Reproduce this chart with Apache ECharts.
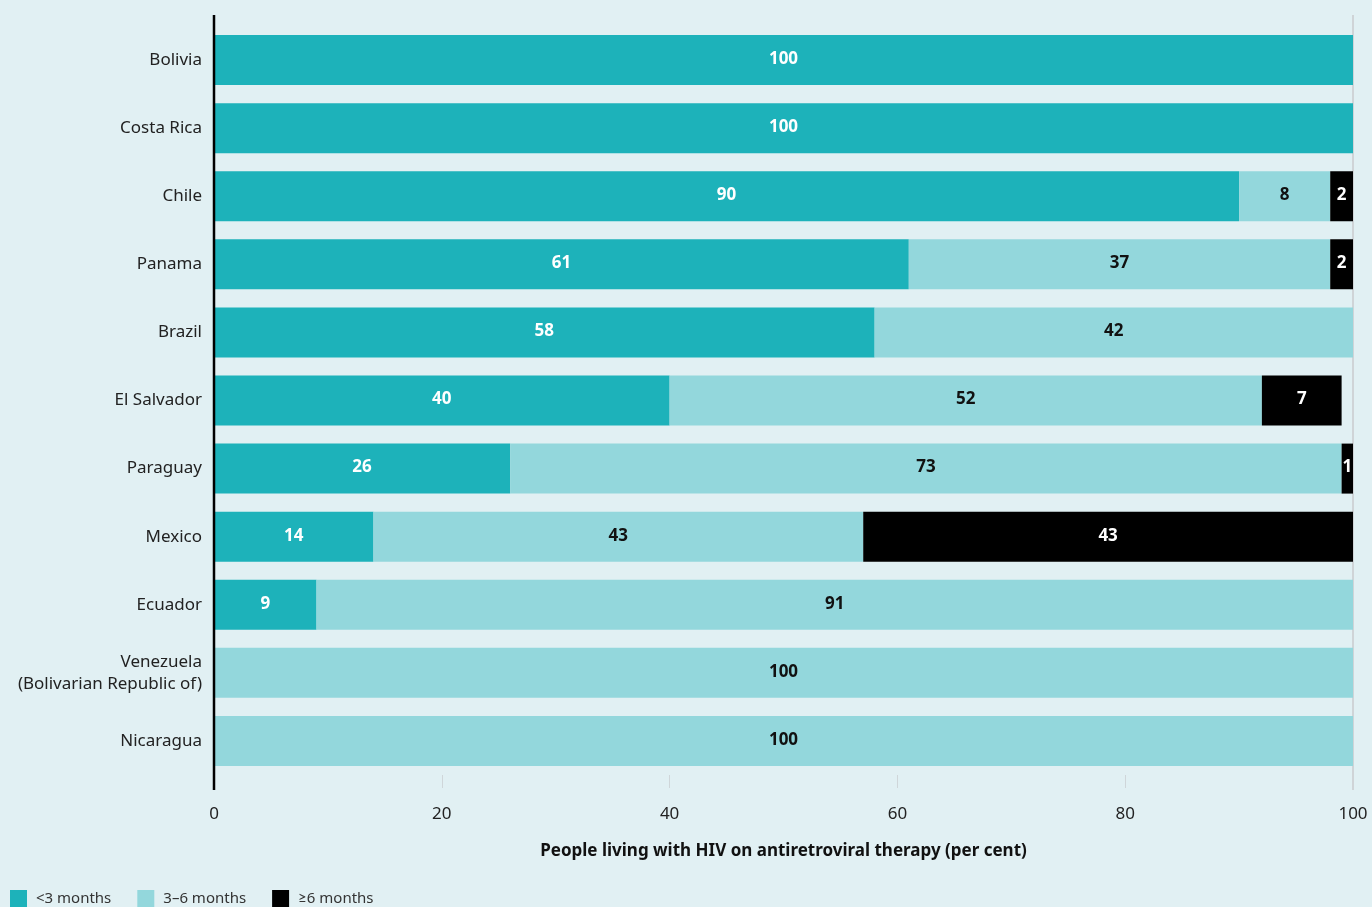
<!DOCTYPE html>
<html><head><meta charset="utf-8">
<script src="https://cdn.jsdelivr.net/npm/echarts@6/dist/echarts.min.js"></script>
<style>html,body{margin:0;padding:0;background:#e1f0f3;}#c{width:1372px;height:907px;}</style>
</head><body><div id="c"></div>
<script>
const categories = ['Bolivia','Costa Rica','Chile','Panama','Brazil','El Salvador','Paraguay','Mexico','Ecuador','Venezuela\n(Bolivarian Republic of)','Nicaragua'];
const lt3 = [100,100,90,61,58,40,26,14,9,null,null];
const m3to6 = [null,null,8,37,42,52,73,43,91,100,100];
const ge6 = [null,null,2,2,null,7,1,43,null,null,null];
const xTicks = [0,20,40,60,80,100];
const seriesNames = ['<3 months','3\u20136 months','\u22656 months'];

const FONT = '"Noto Sans", Lato, sans-serif';
const chart = echarts.init(document.getElementById('c'));
function mk(name, data, color, labelColor){
  return {
    name, type:'bar', stack:'s', data, barWidth:50,
    itemStyle:{color},
    label:{show:true, position:'inside', color:labelColor, fontFamily:FONT, fontWeight:'bold', fontSize:17,
      offset:[0,-1],
      formatter:p=> (p.value==null||p.value===0)?'':String(p.value)},
    emphasis:{disabled:true}
  };
}
chart.setOption({
  backgroundColor:'#e1f0f3',
  animation:false,
  grid:{left:214, right:19, top:26, bottom:132, containLabel:false},
  legend:{left:10, top:890, padding:0, itemWidth:17, itemHeight:17, itemGap:26, icon:'rect',
    textStyle:{fontFamily:FONT, fontSize:15, color:'#333', padding:[0,0,0,4]},
    data:seriesNames},
  xAxis:{type:'value', min:0, max:100, interval:20,
    axisLine:{show:false},
    axisTick:{show:true, length:13, lineStyle:{color:'#cfd6d9', width:1}},
    splitLine:{show:false},
    axisLabel:{fontFamily:FONT, fontSize:17, color:'#222', margin:31},
    name:'People living with HIV on antiretroviral therapy (per cent)',
    nameLocation:'middle', nameGap:68,
    nameTextStyle:{fontFamily:FONT, fontSize:17, fontWeight:'bold', color:'#111'}
  },
  yAxis:{type:'category', data:categories, inverse:true,
    axisLine:{show:false}, axisTick:{show:false},
    axisLabel:{fontFamily:FONT, fontSize:17, color:'#222', margin:12, lineHeight:22}
  },
  series:[
    mk(seriesNames[0], lt3, '#1db2ba', '#ffffff'),
    mk(seriesNames[1], m3to6, '#93d7dc', '#111111'),
    mk(seriesNames[2], ge6, '#000000', '#ffffff')
  ]
});
const x0 = chart.convertToPixel({xAxisIndex:0}, 0);
const x100 = chart.convertToPixel({xAxisIndex:0}, 100);
chart.setOption({graphic:[
  {type:'line', shape:{x1:x100, y1:15, x2:x100, y2:790}, style:{stroke:'#cfd4d7', lineWidth:2}, z:1},
  {type:'line', shape:{x1:x0, y1:15, x2:x0, y2:790}, style:{stroke:'#000', lineWidth:2.5}, z:10}
]});
</script></body></html>
